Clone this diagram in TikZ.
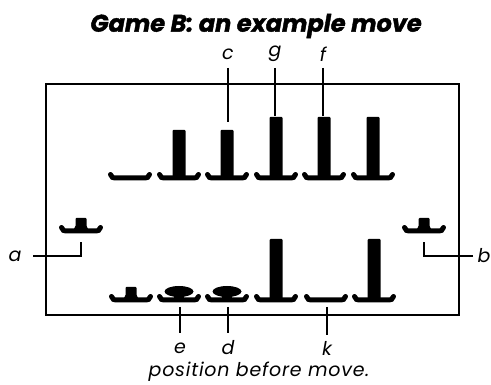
\documentclass[tikz,border=0pt]{standalone}
\usepackage{fontspec}
\setmainfont{Poppins}
\begin{document}
\begin{tikzpicture}[x=1pt,y=-1pt,
  lead/.style={line width=1.8pt},
  lbl/.style={font=\itshape\fontsize{19}{19}\selectfont\addfontfeatures{LetterSpace=4}, inner sep=0pt},
  saucer/.pic={\draw[line width=5pt, line cap=round] (-19.5,-3.5) .. controls (-19,-0.5) and (-17,0) .. (-13,0) -- (13,0) .. controls (17,0) and (19,-0.5) .. (19.5,-3.5);},
  tallpeg/.pic={\fill[rounded corners=1pt] (-6.5,1) rectangle (6.5,-#1);},
  stub/.pic={\fill[rounded corners=1pt] (-5.5,1) rectangle (5.5,-#1); \fill (-7,0) -- (7,0) -- (5.5,-3) -- (-5.5,-3) -- cycle;},
  disc/.pic={\fill (0,-6.5) ellipse [x radius=14.5, y radius=5.5]; \fill (-5,1) rectangle (5,-5);}
]
\useasboundingbox (0,0) rectangle (491,385);
% title
\node[font=\bfseries\itshape\fontsize{24}{24}\selectfont\addfontfeatures{FakeBold=1.6}, inner sep=0pt] (title) at (256,26) {Game B: an example move};
% frame
\draw[line width=2pt] (46,84) rectangle (459,315);
% upper row
\foreach \x in {130,179,227,276,324,373} { \pic at (\x,178) {saucer}; }
\pic at (179,177) {tallpeg=47};
\pic at (227,177) {tallpeg=47};
\pic at (276,177) {tallpeg=60};
\pic at (324,177) {tallpeg=60};
\pic at (373,177) {tallpeg=60};
% lower row
\foreach \x in {131,179,227,276,326,374} { \pic at (\x,300) {saucer}; }
\pic at (131,298) {stub=11};
\pic at (179,298) {disc};
\pic at (227,298) {disc};
\pic at (276,298) {tallpeg=59};
\pic at (374,298) {tallpeg=59};
% side pieces
\pic at (81,231) {saucer};
\pic at (81,229) {stub=11};
\pic at (424,231) {saucer};
\pic at (424,229) {stub=11};
% labels top
\node[lbl] (c) at (228,54) {c};
\node[lbl] (g) at (275,54) {g};
\node[lbl] (f) at (323,54) {f};
\coordinate (c1) at (228,68); \coordinate (c2) at (228,122);
\coordinate (g1) at (275,68); \coordinate (g2) at (275,116);
\coordinate (f1) at (323,68); \coordinate (f2) at (323,116);
\draw[lead] (c1) -- (c2);
\draw[lead] (g1) -- (g2);
\draw[lead] (f1) -- (f2);
% side labels
\node[lbl] (a) at (15,256) {a};
\node[lbl] (b) at (484,256) {b};
\coordinate (a1) at (33,256); \coordinate (a2) at (81,242);
\coordinate (b1) at (473,256); \coordinate (b2) at (424,242);
\draw[lead] (a1) -| (a2);
\draw[lead] (b1) -| (b2);
% bottom labels
\node[lbl] (e) at (180,348) {e};
\node[lbl] (d) at (228,348) {d};
\node[lbl] (k) at (327,348) {k};
\coordinate (e1) at (180,307); \coordinate (e2) at (180,333);
\coordinate (d1) at (228,307); \coordinate (d2) at (228,333);
\coordinate (k1) at (327,307); \coordinate (k2) at (327,335);
\draw[lead] (e1) -- (e2);
\draw[lead] (d1) -- (d2);
\draw[lead] (k1) -- (k2);
% caption
\node[lbl] (cap) at (259,372) {position before move.};
\end{tikzpicture}
\end{document}
